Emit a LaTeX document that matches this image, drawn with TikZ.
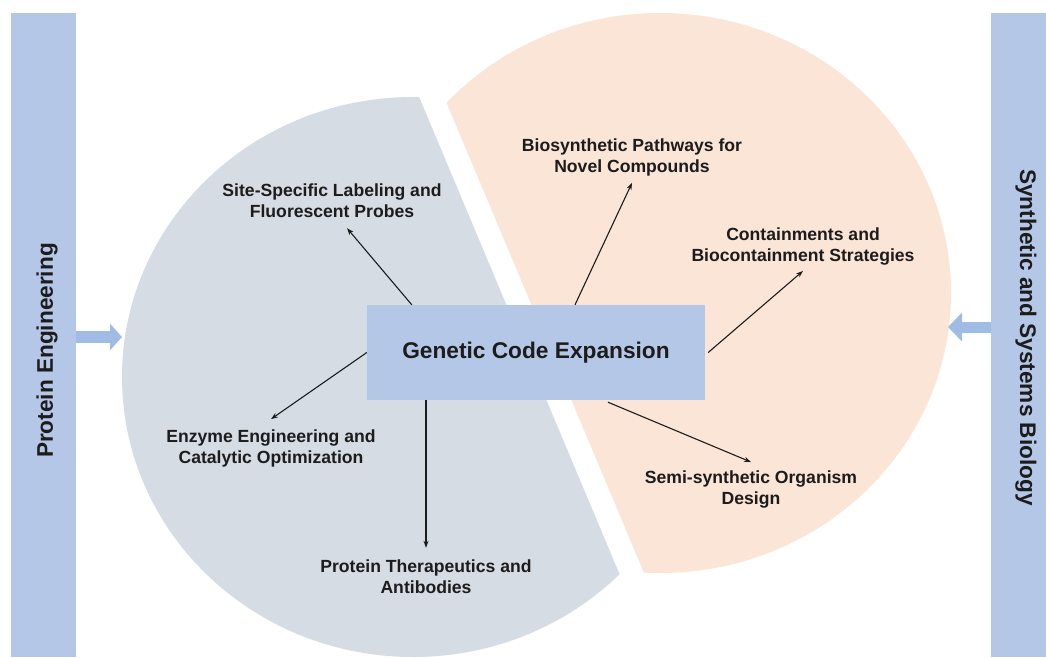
\documentclass[tikz,border=0pt]{standalone}
\usepackage{fontspec}
\setmainfont{Liberation Sans}
\usetikzlibrary{arrows.meta}

\definecolor{barblue}{RGB}{180,199,231}
\definecolor{feedblue}{RGB}{160,188,228}
\definecolor{diskgray}{RGB}{214,220,228}
\definecolor{diskpeach}{RGB}{251,229,214}
\definecolor{inktext}{RGB}{28,28,28}

\tikzset{
	bar/.style={fill=barblue, inner sep=0pt, minimum width=65pt, minimum height=644pt},
	bartext/.style={font=\bfseries\fontsize{22.6}{27}\selectfont, text=inktext},
	feed/.style={draw=feedblue, line width=12pt, -{Triangle[length=12pt, width=26pt]}},
	corebox/.style={fill=barblue, minimum width=338pt, minimum height=95pt,
		font=\bfseries\fontsize{22.7}{27}\selectfont, text=inktext},
	topic/.style={align=center, inner sep=0pt, font=\bfseries\fontsize{17.6}{21}\selectfont, text=inktext},
	link/.style={draw=inktext, line width=1.1pt, -{Stealth[length=7pt, width=5pt]}}
}

\begin{document}
\begin{tikzpicture}[x=1pt, y=-1pt]
	\useasboundingbox (0,0) rectangle (1046,657);
	\fill[white] (0,0) rectangle (1046,657);

	\begin{scope}
		\clip (0,0) -- (378.4,0) -- (672.4,700) -- (0,700) -- cycle;
		\fill[diskgray] (413,377) ellipse [x radius=291, y radius=280];
	\end{scope}
	\begin{scope}
		\clip (403.4,0) -- (1046,0) -- (1046,700) -- (697.4,700) -- cycle;
		\fill[diskpeach] (660,293) ellipse [x radius=291, y radius=280];
	\end{scope}

	\node[bar] (pebar) at (43.5,335) {};
	\node[bar, minimum width=55pt] (ssbar) at (1018.5,335) {};
	\node[bartext, rotate=90] (pelabel) at (47,350.5) {Protein Engineering};
	\node[bartext, rotate=-90] (sslabel) at (1026,337.5) {Synthetic and Systems Biology};

	\coordinate (pein) at (122,337);
	\coordinate (ssin) at (948,327);
	\draw[feed] (pebar.east |- pein) -- (pein);
	\draw[feed, line width=11pt, -{Triangle[length=14pt, width=28pt]}] (ssbar.west |- ssin) -- (ssin);

	\node[corebox] (gce) at (536,352.5) {Genetic Code Expansion};

	\node[topic] (labeling) at (332,201) {Site-Specific Labeling and\\Fluorescent Probes};
	\node[topic] (pathways) at (632,157) {Biosynthetic Pathways for\\Novel Compounds};
	\node[topic] (containment) at (803,246) {Containments and\\Biocontainment Strategies};
	\node[topic] (enzyme) at (271,448) {Enzyme Engineering and\\Catalytic Optimization};
	\node[topic] (therapeutics) at (426,577) {Protein Therapeutics and\\Antibodies};
	\node[topic] (organism) at (751,489) {Semi-synthetic Organism\\Design};

	\draw[link] ([xshift=45pt]gce.north west) -- ([xshift=15pt, yshift=-10pt]labeling.south);
	\draw[link] ([xshift=39pt]gce.north) -- ([yshift=-7pt]pathways.south);
	\draw[link] ([xshift=3pt]gce.east) -- ([yshift=-6pt]containment.south);
	\draw[link] (gce.west) -- ([yshift=10pt]enzyme.north);
	\draw[link] ([xshift=-110pt]gce.south) -- ([yshift=12pt]therapeutics.north);
	\draw[link] ([xshift=72pt, yshift=-2pt]gce.south) -- ([yshift=8pt]organism.north);
\end{tikzpicture}
\end{document}
